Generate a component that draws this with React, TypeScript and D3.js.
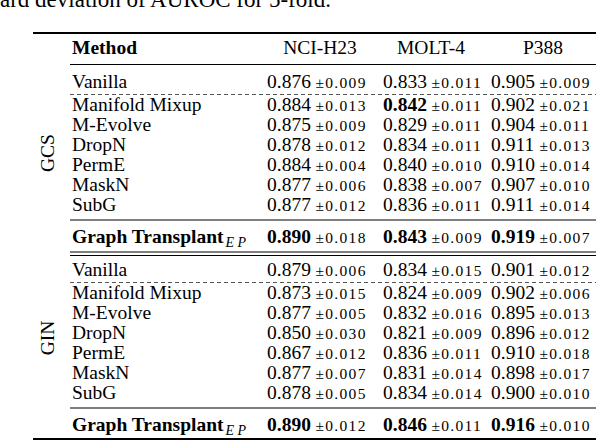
import React, { useEffect } from "react";
import * as d3 from "d3";

const caption = "ard deviation of AUROC for 5-fold.";
const datasets = ["NCI-H23", "MOLT-4", "P388"];
const methods = ["Vanilla", "Manifold Mixup", "M-Evolve", "DropN", "PermE", "MaskN", "SubG", "Graph Transplant"];
const groups = ["GCS", "GIN"];

const gcsNciMean = [0.876, 0.884, 0.875, 0.878, 0.884, 0.877, 0.877, 0.890];
const gcsNciStd = [0.009, 0.013, 0.009, 0.012, 0.004, 0.006, 0.012, 0.018];
const gcsMoltMean = [0.833, 0.842, 0.829, 0.834, 0.840, 0.838, 0.836, 0.843];
const gcsMoltStd = [0.011, 0.011, 0.011, 0.011, 0.010, 0.007, 0.011, 0.009];
const gcsP388Mean = [0.905, 0.902, 0.904, 0.911, 0.910, 0.907, 0.911, 0.919];
const gcsP388Std = [0.009, 0.021, 0.011, 0.013, 0.014, 0.010, 0.014, 0.007];

const ginNciMean = [0.879, 0.873, 0.877, 0.850, 0.867, 0.877, 0.878, 0.890];
const ginNciStd = [0.006, 0.015, 0.005, 0.030, 0.012, 0.007, 0.005, 0.012];
const ginMoltMean = [0.834, 0.824, 0.832, 0.821, 0.836, 0.831, 0.834, 0.846];
const ginMoltStd = [0.015, 0.009, 0.016, 0.009, 0.011, 0.014, 0.014, 0.011];
const ginP388Mean = [0.901, 0.902, 0.895, 0.896, 0.910, 0.898, 0.900, 0.916];
const ginP388Std = [0.012, 0.006, 0.013, 0.012, 0.018, 0.017, 0.010, 0.010];

// extra bold cells besides the final row: [group, method index, dataset index]
const extraBold = [[0, 1, 1]];

const groupMeans = [
  [gcsNciMean, gcsMoltMean, gcsP388Mean],
  [ginNciMean, ginMoltMean, ginP388Mean],
];
const groupStds = [
  [gcsNciStd, gcsMoltStd, gcsP388Std],
  [ginNciStd, ginMoltStd, ginP388Std],
];

const W = 598;
const H = 442;
const FONT = "'Liberation Serif', 'Times New Roman', serif";
const F = 19.5;
const FS = 15.5;

export default function App() {
  useEffect(() => {
    document.body.style.margin = "0";
  }, []);

  const fmt = d3.format(".3f");
  const numX = d3.scaleOrdinal<string, number>().domain(datasets).range([267, 383, 491]);
  const headX = d3.scaleOrdinal<string, number>().domain(datasets).range([320, 431, 543]);
  const pmOffset = 48.5;

  const layouts = [
    { vanilla: 88, first: 111, last: 211, final: 243, dash: 94.5, label: 153 },
    { vanilla: 276, first: 299, last: 399, final: 431, dash: 282.5, label: 338 },
  ];

  const xL = 70;
  const xR = 596;
  // horizontal rules: [y, x start, stroke width]
  const rules: [number, number, number][] = [
    [33, 33, 1.8],
    [64.5, xL, 1.1],
    [220, xL, 1.2],
    [252, xL, 1.1],
    [255.5, xL, 1.1],
    [408, xL, 1.2],
    [439, 33, 1.8],
  ];

  return (
    <svg width={W} height={H} style={{ display: "block", background: "#fff" }} fontFamily={FONT}>
      <text x={0} y={7} fontSize={23} fill="#000">{caption}</text>
      {rules.map(([y, x1, sw], k) => (
        <line key={"r" + k} x1={x1} x2={xR} y1={y} y2={y} stroke="#000" strokeWidth={sw} />
      ))}
      <text x={72} y={54} fontSize={F} fontWeight="bold">Method</text>
      {datasets.map((d) => (
        <text key={d} x={headX(d)} y={54} fontSize={F} textAnchor="middle">{d}</text>
      ))}

      {groups.map((g, gi) => {
        const L = layouts[gi];
        const ys = d3.scaleLinear().domain([1, 6]).range([L.first, L.last]);
        const rowY = (i: number) => (i === 0 ? L.vanilla : i === 7 ? L.final : ys(i));
        return (
          <g key={g}>
            <text transform={`translate(54,${L.label}) rotate(-90)`} fontSize={F} textAnchor="middle">
              {g}
            </text>
            <line x1={xL} x2={xR} y1={L.dash} y2={L.dash} stroke="#555" strokeWidth={1} strokeDasharray="4,3" />
            {methods.map((m, i) => {
              const y = rowY(i);
              const isFinal = i === 7;
              return (
                <g key={m}>
                  <text x={72} y={y} fontSize={F} fontWeight={isFinal ? "bold" : "normal"}>
                    {m}
                    {isFinal && (
                      <tspan fontSize={FS - 1.5} fontStyle="italic" fontWeight="normal" dy={4} dx={2}>E P</tspan>
                    )}
                  </text>
                  {datasets.map((d, di) => {
                    const bold = isFinal || extraBold.some((e) => e[0] === gi && e[1] === i && e[2] === di);
                    const x = numX(d);
                    return (
                      <g key={d}>
                        <text x={x} y={y} fontSize={F} fontWeight={bold ? "bold" : "normal"}>
                          {fmt(groupMeans[gi][di][i])}
                        </text>
                        <text x={x + pmOffset} y={y} fontSize={FS} letterSpacing={1.3}>
                          {"±" + fmt(groupStds[gi][di][i])}
                        </text>
                      </g>
                    );
                  })}
                </g>
              );
            })}
          </g>
        );
      })}
    </svg>
  );
}
